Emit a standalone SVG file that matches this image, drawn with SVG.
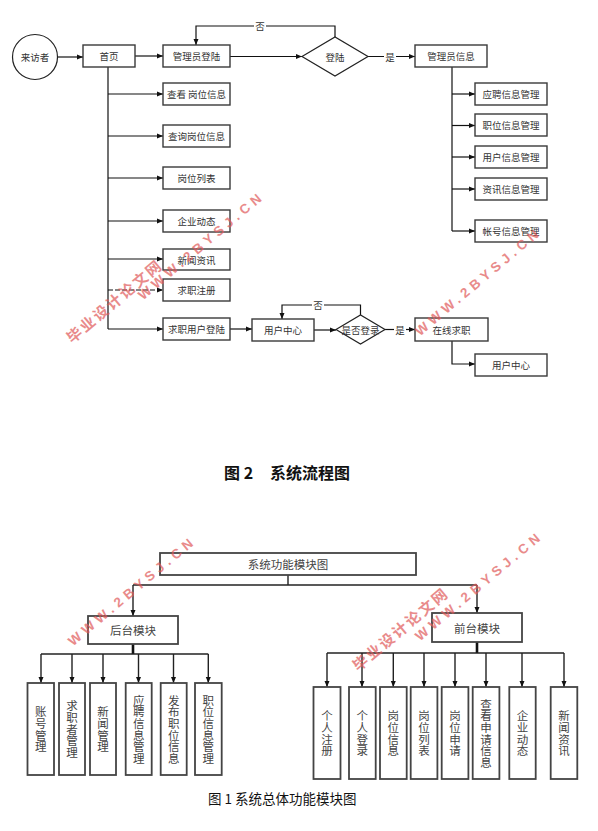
<svg xmlns="http://www.w3.org/2000/svg" width="598" height="831" viewBox="0 0 598 831">
<defs>
<marker id="ar" markerWidth="6" markerHeight="6" refX="6" refY="3" orient="auto" markerUnits="userSpaceOnUse"><path d="M0,0.5 L6,3 L0,5.5 z" fill="#111"/></marker>
<style>
.box{fill:#fff;stroke:#3a3a3a;stroke-width:1.4}
.bx2{fill:#fff;stroke:#444;stroke-width:1.8}
.t{font-family:"Noto Sans CJK SC","Liberation Sans",sans-serif;font-size:9.5px;fill:#333;text-anchor:middle;dominant-baseline:central}
.t2{font-family:"Noto Sans CJK SC","Liberation Sans",sans-serif;font-size:11.5px;fill:#444;text-anchor:middle;dominant-baseline:central}
.v{font-family:"Noto Sans CJK SC","Liberation Sans",sans-serif;font-size:11.5px;fill:#444;text-anchor:middle;writing-mode:vertical-rl;letter-spacing:0.2px}
.ln{stroke:#111;stroke-width:1.2;fill:none}
.lb{stroke:#222;stroke-width:1.4;fill:none}
.thk{stroke:#111;stroke-width:2.6;fill:none}
.wm{font-family:"Liberation Sans",sans-serif;font-weight:bold;font-size:13.5px;fill:#e05a5a;opacity:0.7;dominant-baseline:central}
.wmc{font-family:"Noto Sans CJK SC",sans-serif;font-weight:bold;font-size:15px;fill:#e05a5a;opacity:0.7;dominant-baseline:central}
.cap{font-family:"Noto Sans CJK SC","Liberation Sans",sans-serif;fill:#111;dominant-baseline:central}
</style>
</defs>

<g id="connectors">
<path class="ln" d="M57.5 57 H83" marker-end="url(#ar)"/>
<path class="ln" d="M135 56 H163" marker-end="url(#ar)"/>
<path class="ln" d="M230 56.5 H302" marker-end="url(#ar)"/>
<path class="ln" d="M335 37 V26 H196 V45" marker-end="url(#ar)"/>
<path class="ln" d="M368 56.5 H415" marker-end="url(#ar)"/>
<path class="ln" d="M108 67 V329"/>
<path class="ln" d="M108 94 H163" marker-end="url(#ar)"/>
<path class="ln" d="M108 136 H163" marker-end="url(#ar)"/>
<path class="ln" d="M108 178 H163" marker-end="url(#ar)"/>
<path class="ln" d="M108 221 H163" marker-end="url(#ar)"/>
<path class="ln" d="M108 259 H163" marker-end="url(#ar)"/>
<path class="ln" d="M108 290 H163" stroke-dasharray="5 2" marker-end="url(#ar)"/>
<path class="ln" d="M108 329 H163" marker-end="url(#ar)"/>
<path class="ln" d="M230 329 H252" marker-end="url(#ar)"/>
<path class="ln" d="M314 330 H336" marker-end="url(#ar)"/>
<path class="ln" d="M360.5 315 V305 H282 V319" marker-end="url(#ar)"/>
<path class="ln" d="M385 329.5 H415" marker-end="url(#ar)"/>
<path class="ln" d="M452 341 V364 H475" marker-end="url(#ar)"/>
<path class="ln" d="M452 67 V231"/>
<path class="ln" d="M452 94 H475" marker-end="url(#ar)"/>
<path class="ln" d="M452 125.5 H475" marker-end="url(#ar)"/>
<path class="ln" d="M452 157 H475" marker-end="url(#ar)"/>
<path class="ln" d="M452 189 H475" marker-end="url(#ar)"/>
<path class="ln" d="M452 231 H475" marker-end="url(#ar)"/>
<rect x="254" y="20" width="12" height="12" fill="#fff"/>
<text class="t" x="260" y="26">否</text>
<rect x="384" y="51" width="12" height="12" fill="#fff"/>
<text class="t" x="390" y="56.5">是</text>
<rect x="312" y="299" width="12" height="12" fill="#fff"/>
<text class="t" x="318" y="305">否</text>
<rect x="394" y="324" width="12" height="12" fill="#fff"/>
<text class="t" x="400" y="329.5">是</text>

<path class="lb" d="M288 575 V585"/>
<path class="lb" d="M133 585 H477"/>
<path class="lb" d="M133 585 V616" marker-end="url(#ar)"/>
<path class="lb" d="M477 585 V613" marker-end="url(#ar)"/>
<path class="thk" d="M133 644 V654"/>
<path class="thk" d="M477 642 V653"/>
<path class="lb" d="M41 654 H208.3"/>
<path class="lb" d="M41 654 V683" marker-end="url(#ar)"/>
<path class="lb" d="M72 654 V683" marker-end="url(#ar)"/>
<path class="lb" d="M103 654 V683" marker-end="url(#ar)"/>
<path class="lb" d="M138.5 654 V683" marker-end="url(#ar)"/>
<path class="lb" d="M173.5 654 V683" marker-end="url(#ar)"/>
<path class="lb" d="M208.3 654 V683" marker-end="url(#ar)"/>
<path class="lb" d="M327 653 H564"/>
<path class="lb" d="M327 653 V687" marker-end="url(#ar)"/>
<path class="lb" d="M362 653 V687" marker-end="url(#ar)"/>
<path class="lb" d="M393.3 653 V687" marker-end="url(#ar)"/>
<path class="lb" d="M424 653 V687" marker-end="url(#ar)"/>
<path class="lb" d="M455 653 V687" marker-end="url(#ar)"/>
<path class="lb" d="M486 653 V687" marker-end="url(#ar)"/>
<path class="lb" d="M522 653 V687" marker-end="url(#ar)"/>
<path class="lb" d="M564 653 V687" marker-end="url(#ar)"/>
</g>

<g id="n-visitor"><circle cx="35" cy="57" r="22.5" fill="#fff" stroke="#222" stroke-width="1.2"/><text class="t" x="35" y="57">来访者</text></g>
<g id="n-home"><rect class="box" x="83" y="45" width="52" height="22"/><text class="t" x="109" y="56">首页</text></g>
<g id="n-adminlogin"><rect class="box" x="163" y="45" width="67" height="22"/><text class="t" x="196.5" y="56">管理员登陆</text></g>
<g id="n-view"><rect class="box" x="163" y="83" width="67" height="22"/><text class="t" x="196.5" y="94">查看 岗位信息</text></g>
<g id="n-query"><rect class="box" x="163" y="125" width="67" height="22"/><text class="t" x="196.5" y="136">查询岗位信息</text></g>
<g id="n-list"><rect class="box" x="163" y="167" width="67" height="22"/><text class="t" x="196.5" y="178">岗位列表</text></g>
<g id="n-corp"><rect class="box" x="163" y="210" width="67" height="22"/><text class="t" x="196.5" y="221">企业动态</text></g>
<g id="n-news"><rect class="box" x="163" y="249" width="67" height="21"/><text class="t" x="196.5" y="259.5">新闻资讯</text></g>
<g id="n-reg"><rect class="box" x="163" y="279" width="67" height="22"/><text class="t" x="196.5" y="290">求职注册</text></g>
<g id="n-userlogin"><rect class="box" x="163" y="318" width="67" height="22"/><text class="t" x="196.5" y="329">求职用户登陆</text></g>
<g id="n-uc1"><rect class="box" x="252" y="319" width="62" height="22"/><text class="t" x="283" y="330">用户中心</text></g>
<g id="n-islogin"><polygon points="336,329.5 360.5,315 385,329.5 360.5,344" fill="#fff" stroke="#222" stroke-width="1.2"/><text class="t" x="360.5" y="329.5">是否登录</text></g>
<g id="n-online"><rect class="box" x="415" y="318" width="73" height="23"/><text class="t" x="451.5" y="329.5">在线求职</text></g>
<g id="n-uc2"><rect class="box" x="475" y="354" width="72" height="22"/><text class="t" x="511" y="365">用户中心</text></g>
<g id="n-login"><polygon points="302,56.5 335,37 368,56.5 335,76" fill="#fff" stroke="#222" stroke-width="1.2"/><text class="t" x="335" y="56.5">登陆</text></g>
<g id="n-admininfo"><rect class="box" x="415" y="45" width="72" height="22"/><text class="t" x="451" y="56">管理员信息</text></g>
<g id="n-a1"><rect class="box" x="475" y="83" width="72" height="22"/><text class="t" x="511" y="94">应聘信息管理</text></g>
<g id="n-a2"><rect class="box" x="475" y="114" width="72" height="22"/><text class="t" x="511" y="125">职位信息管理</text></g>
<g id="n-a3"><rect class="box" x="475" y="146" width="72" height="22"/><text class="t" x="511" y="157">用户信息管理</text></g>
<g id="n-a4"><rect class="box" x="475" y="178" width="72" height="22"/><text class="t" x="511" y="189">资讯信息管理</text></g>
<g id="n-a5"><rect class="box" x="475" y="220" width="72" height="22"/><text class="t" x="511" y="231">帐号信息管理</text></g>

<text class="cap" x="224" y="471.5" font-size="16" font-weight="bold">图 2</text>
<text class="cap" x="270" y="471.5" font-size="16" font-weight="bold">系统流程图</text>

<g id="m-root"><rect class="bx2" x="160" y="553" width="256" height="22"/><text class="t2" x="288" y="564">系统功能模块图</text></g>
<g id="m-back"><rect class="bx2" x="88" y="616" width="90" height="28"/><text class="t2" x="133" y="630" font-size="12.5">后台模块</text></g>
<g id="m-front"><rect class="bx2" x="432" y="613" width="90" height="29"/><text class="t2" x="477" y="627.5" font-size="12.5">前台模块</text></g>

<g id="b1"><rect class="bx2" x="27.5" y="683" width="26.5" height="92"/><text class="v" x="40.7" y="729.5">账号管理</text></g>
<g id="b2"><rect class="bx2" x="59" y="683" width="26" height="92"/><text class="v" x="72" y="729.5">求职者管理</text></g>
<g id="b3"><rect class="bx2" x="90" y="683" width="26" height="92"/><text class="v" x="103" y="729.5">新闻管理</text></g>
<g id="b4"><rect class="bx2" x="125.7" y="683" width="26" height="92"/><text class="v" x="138.7" y="729.5">应聘信息管理</text></g>
<g id="b5"><rect class="bx2" x="160.7" y="683" width="26" height="92"/><text class="v" x="173.7" y="729.5">发布职位信息</text></g>
<g id="b6"><rect class="bx2" x="195" y="683" width="26.7" height="92"/><text class="v" x="208.3" y="729.5">职位信息管理</text></g>

<g id="f1"><rect class="bx2" x="313.5" y="687" width="27" height="92"/><text class="v" x="327" y="733.5">个人注册</text></g>
<g id="f2"><rect class="bx2" x="349" y="687" width="26.7" height="92"/><text class="v" x="362.3" y="733.5">个人登录</text></g>
<g id="f3"><rect class="bx2" x="380" y="687" width="26.7" height="92"/><text class="v" x="393.3" y="733.5">岗位信息</text></g>
<g id="f4"><rect class="bx2" x="410.7" y="687" width="26.7" height="92"/><text class="v" x="424" y="733.5">岗位列表</text></g>
<g id="f5"><rect class="bx2" x="441.7" y="687" width="26.7" height="92"/><text class="v" x="455" y="733.5">岗位申请</text></g>
<g id="f6"><rect class="bx2" x="472.7" y="687" width="26.7" height="92"/><text class="v" x="486" y="733.5">查看申请信息</text></g>
<g id="f7"><rect class="bx2" x="509.3" y="687" width="26.4" height="92"/><text class="v" x="522.5" y="733.5">企业动态</text></g>
<g id="f8"><rect class="bx2" x="550.7" y="687" width="26.6" height="92"/><text class="v" x="564" y="733.5">新闻资讯</text></g>

<text class="cap" x="208" y="798" font-size="13.5">图 1 系统总体功能模块图</text>

<g id="watermarks">
<text class="wmc" x="68" y="339" transform="rotate(-40 68 339)" textLength="118" lengthAdjust="spacing">毕业设计论文网</text>
<text class="wm" x="140" y="297" transform="rotate(-40 140 297)" textLength="156" lengthAdjust="spacing">WWW.2BYSJ.CN</text>
<text class="wm" x="417" y="333" transform="rotate(-40 417 333)" textLength="156" lengthAdjust="spacing">WWW.2BYSJ.CN</text>
<text class="wm" x="70" y="643" transform="rotate(-40 70 643)" textLength="158" lengthAdjust="spacing">WWW.2BYSJ.CN</text>
<text class="wmc" x="354" y="667" transform="rotate(-40 354 667)" textLength="118" lengthAdjust="spacing">毕业设计论文网</text>
<text class="wm" x="417" y="638" transform="rotate(-40 417 638)" textLength="158" lengthAdjust="spacing">WWW.2BYSJ.CN</text>
</g>
</svg>
